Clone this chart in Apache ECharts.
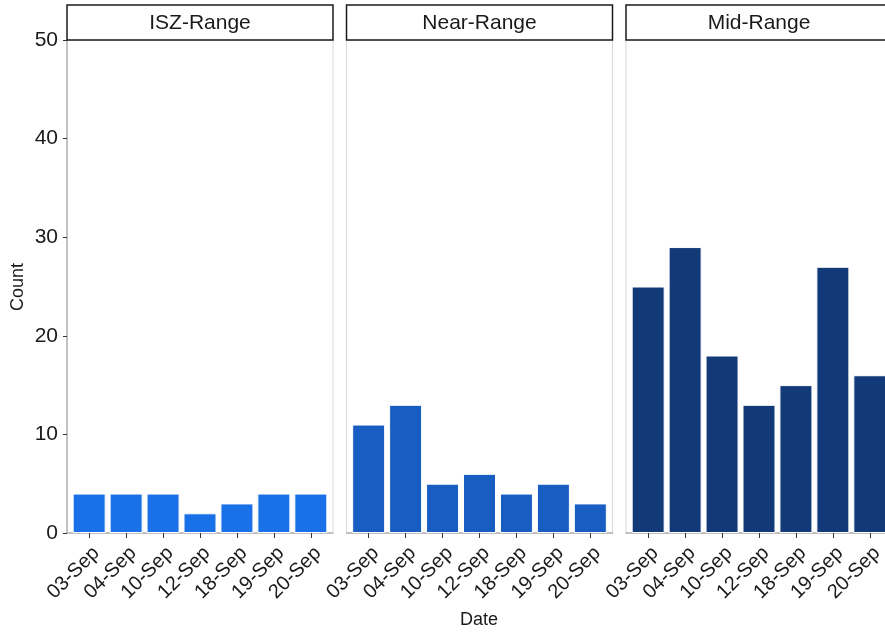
<!DOCTYPE html>
<html>
<head>
<meta charset="utf-8">
<script src="https://cdn.jsdelivr.net/npm/echarts@6/dist/echarts.min.js"></script>
<style>
  html, body { margin: 0; padding: 0; background: #fff; }
</style>
</head>
<body>
<div id="container" style="width: 885px; height: 632px"></div>
<script>
// categories (dates) shared by all panels
const dates = ['03-Sep', '04-Sep', '10-Sep', '12-Sep', '18-Sep', '19-Sep', '20-Sep']
const panels = ['ISZ-Range', 'Near-Range', 'Mid-Range']
// counts per panel
const iszCounts = [4, 4, 4, 2, 3, 4, 4]
const nearCounts = [11, 13, 5, 6, 4, 5, 3]
const midCounts = [25, 29, 18, 13, 15, 27, 16]
const yTicks = [0, 10, 20, 30, 40, 50]

const seriesData = [iszCounts, nearCounts, midCounts]
const colors = ['#1a70e6', '#185dc2', '#133a78']
const lefts = [67, 346.5, 626]
const panelW = 266
const plotTop = 40
const plotBottom = 533
const font = 'Liberation Sans, Arial, sans-serif'

var myChart = echarts.init(document.getElementById('container'))

const grids = []
const xAxes = []
const yAxes = []
const series = []
const graphics = []
const pos = dates.map((d, i) => i + 1)

panels.forEach((name, p) => {
  // last panel runs past the right edge of the picture
  grids.push({
    left: lefts[p], top: plotTop, width: panelW, height: plotBottom - plotTop,
    outerBoundsMode: 'none', containLabel: false,
    show: true, borderColor: '#d9d9d9', borderWidth: 1, backgroundColor: '#fff'
  })
  xAxes.push({
    gridIndex: p, type: 'value', min: 0.4, max: 7.6,
    splitLine: { show: false },
    axisLine: { show: true, onZero: false, lineStyle: { color: '#b3b3b3', width: 1.5 } },
    axisTick: { show: true, customValues: pos, length: 5, lineStyle: { color: '#333', width: 1 } },
    axisLabel: {
      customValues: pos, rotate: 45, margin: 10, fontSize: 20, color: '#1a1a1a', fontFamily: font,
      align: 'right', verticalAlign: 'top',
      formatter: (v) => dates[Math.round(v) - 1]
    }
  })
  yAxes.push({
    gridIndex: p, type: 'value', min: yTicks[0], max: yTicks[yTicks.length - 1], interval: 10,
    splitLine: { show: false },
    axisLine: { show: p === 0, lineStyle: { color: '#b3b3b3', width: 1.5 } },
    axisTick: { show: p === 0, length: 4, lineStyle: { color: '#333' } },
    axisLabel: { show: p === 0, fontSize: 21, color: '#1a1a1a', margin: 9, fontFamily: font }
  })
  series.push({
    type: 'bar', xAxisIndex: p, yAxisIndex: p, barWidth: 33,
    itemStyle: { color: colors[p], borderColor: '#fff', borderWidth: 1 },
    data: seriesData[p].map((v, i) => [pos[i], v])
  })
  // facet strip
  graphics.push({
    type: 'rect',
    shape: { x: lefts[p], y: 5, width: panelW, height: 35 },
    style: { fill: '#fff', stroke: '#1a1a1a', lineWidth: 1.5 },
    z: 100
  })
  graphics.push({
    type: 'text',
    x: lefts[p] + panelW / 2, y: 23,
    style: { text: name, fontSize: 21, fill: '#1a1a1a', fontFamily: font, align: 'center', verticalAlign: 'middle' },
    z: 101
  })
})

graphics.push({
  type: 'text', x: 479, y: 620,
  style: { text: 'Date', fontSize: 18, fill: '#1a1a1a', fontFamily: font, align: 'center', verticalAlign: 'middle' }
})
graphics.push({
  type: 'text', x: 18, y: 287, rotation: Math.PI / 2,
  style: { text: 'Count', fontSize: 18, fill: '#1a1a1a', fontFamily: font, align: 'center', verticalAlign: 'middle' }
})

const option = {
  animation: false,
  grid: grids,
  xAxis: xAxes,
  yAxis: yAxes,
  series: series,
  graphic: graphics
}
myChart.setOption(option)
</script>
</body>
</html>
